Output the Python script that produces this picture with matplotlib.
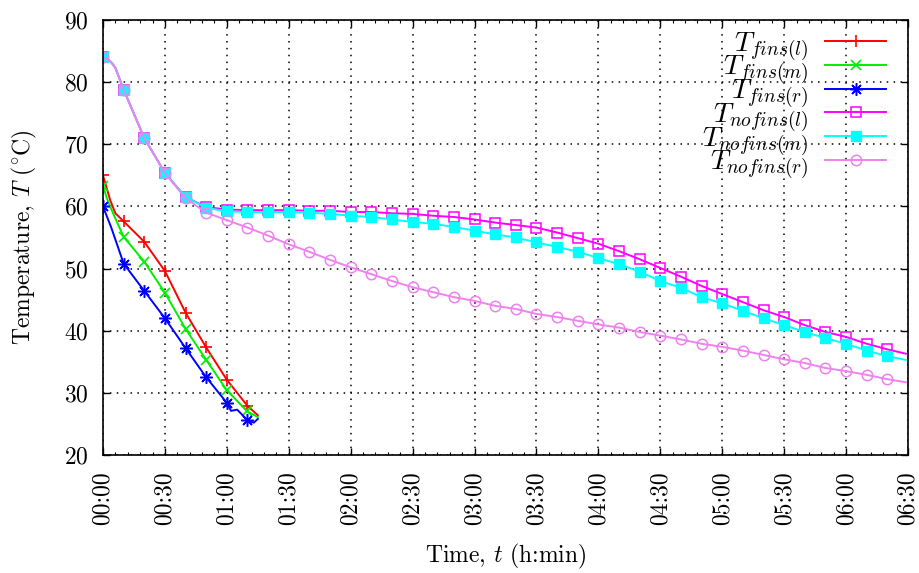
import numpy as np
import matplotlib
matplotlib.use("Agg")
import matplotlib.pyplot as plt
from matplotlib.ticker import MultipleLocator, FuncFormatter

plt.rcParams["font.family"] = ["cmr10", "DejaVu Serif"]
plt.rcParams["mathtext.fontset"] = "cm"
plt.rcParams["axes.formatter.use_mathtext"] = True

# time in minutes, temperature in deg C
t_fins_l = [0, 3.5, 6, 10, 20, 30, 40, 50, 60, 70, 75]
T_fins_l = [65.0, 61.0, 58.9, 57.6, 54.3, 49.6, 42.9, 37.3, 32.1, 27.9, 26.4]

t_fins_m = [0, 2, 5, 10, 20, 30, 40, 50, 60, 70, 75]
T_fins_m = [63.3, 61.2, 58.8, 55.1, 51.1, 46.1, 40.3, 35.3, 30.4, 27.0, 26.1]

t_fins_r = [0, 4, 10, 20, 30, 40, 50, 60, 62, 65, 70, 73, 75]
T_fins_r = [60.0, 56.6, 50.8, 46.4, 42.0, 37.2, 32.5, 28.4, 27.1, 27.3, 25.6, 25.2, 25.8]

t_nofins = [0, 2, 4, 6, 10, 15, 20, 30, 40, 50, 60, 70, 80, 90, 100, 110, 120,
            130, 140, 150, 160, 170, 180, 190, 200, 210, 220, 230, 240, 250,
            260, 270, 280, 290, 300, 310, 320, 330, 340, 350, 360, 370, 380, 389]
T_nofins_l = [84.0, 83.8, 83.2, 82.3, 78.8, 74.9, 71.0, 65.4, 61.5, 59.9, 59.5,
              59.4, 59.4, 59.4, 59.3, 59.3, 59.1, 59.1, 58.9, 58.8, 58.5, 58.3,
              57.9, 57.4, 57.0, 56.6, 55.8, 54.9, 54.0, 52.8, 51.5, 50.1, 48.7,
              47.2, 45.9, 44.6, 43.3, 42.2, 40.9, 39.8, 39.0, 37.9, 37.0, 36.3]
T_nofins_m = [84.0, 83.8, 83.2, 82.3, 78.8, 74.9, 71.0, 65.4, 61.5, 59.8, 59.2,
              59.1, 59.1, 59.1, 59.0, 58.8, 58.5, 58.3, 57.9, 57.5, 57.2, 56.7,
              56.1, 55.5, 55.0, 54.2, 53.5, 52.7, 51.7, 50.7, 49.5, 48.0, 46.9,
              45.4, 44.4, 43.2, 42.0, 40.9, 39.8, 38.8, 37.9, 36.8, 35.9, 35.3]
T_nofins_r = [84.0, 83.8, 83.2, 82.3, 78.8, 74.9, 71.0, 65.4, 61.3, 59.0, 57.8,
              56.6, 55.3, 53.9, 52.7, 51.4, 50.2, 49.1, 48.0, 47.0, 46.2, 45.4,
              44.8, 44.0, 43.5, 42.7, 42.2, 41.6, 41.0, 40.5, 39.8, 39.2, 38.6,
              37.9, 37.4, 36.8, 36.1, 35.4, 34.8, 34.0, 33.5, 32.9, 32.2, 31.7]


def every10(t):
    # markers only on the 10 minute samples
    return [i for i, v in enumerate(t) if v % 10 == 0]


def hhmm(x, pos):
    x = int(round(x))
    return f"{x // 60:02d}:{x % 60:02d}"


fig = plt.figure(figsize=(9.19, 5.73), dpi=100)
ax = fig.add_axes([103 / 919, 1 - 455 / 573, 805 / 919, 435 / 573])

lw = 1.4
ax.plot(t_fins_l, T_fins_l, color="#ff0000", lw=lw, marker="+", ms=9, mew=1.2,
        markevery=every10(t_fins_l), label=r"$T_{fins(l)}$")
ax.plot(t_fins_m, T_fins_m, color="#00ee00", lw=lw, marker="x", ms=7.5, mew=1.2,
        markevery=every10(t_fins_m), label=r"$T_{fins(m)}$")
ax.plot(t_fins_r, T_fins_r, color="#0000ff", lw=lw, marker=(8, 2, 0), ms=9, mew=1.1,
        markevery=every10(t_fins_r), label=r"$T_{fins(r)}$")
ax.plot(t_nofins, T_nofins_l, color="#ff00ff", lw=lw, marker="s", ms=7, mew=1.1,
        mfc="none", markevery=every10(t_nofins), label=r"$T_{nofins(l)}$")
ax.plot(t_nofins, T_nofins_m, color="#00ffff", lw=lw, marker="s", ms=7,
        markevery=every10(t_nofins), label=r"$T_{nofins(m)}$")
ax.plot(t_nofins, T_nofins_r, color="#ee82ee", lw=lw, marker="o", ms=7.5, mew=1.1,
        mfc="none", markevery=every10(t_nofins), label=r"$T_{nofins(r)}$")

ax.set_xlim(0, 390)
ax.set_ylim(20, 90)
ax.xaxis.set_major_locator(MultipleLocator(30))
ax.xaxis.set_minor_locator(MultipleLocator(6))
ax.xaxis.set_major_formatter(FuncFormatter(hhmm))
ax.yaxis.set_major_locator(MultipleLocator(10))

ax.tick_params(which="both", direction="in", top=True, right=True, labelsize=17)
ax.tick_params(which="major", length=5, width=1)
ax.tick_params(which="minor", length=2.5, width=0.8)
ax.tick_params(axis="y", pad=10)
ax.tick_params(axis="x", pad=12)
plt.setp(ax.get_xticklabels(), rotation=90)

for s in ax.spines.values():
    s.set_linewidth(1.2)

ax.set_axisbelow(True)
ax.grid(True, which="major", color="black", linestyle=(0, (1, 3.5)), linewidth=1.1)

ax.set_xlabel(r"Time, $t$ (h:min)", fontsize=17, labelpad=12)
ax.set_ylabel(r"Temperature, $T$ ($^{\circ}$C)", fontsize=17, labelpad=18)

ax.legend(loc="upper right", bbox_to_anchor=(0.973, 0.978), frameon=False,
          markerfirst=False, fontsize=20, handlelength=2.2, handletextpad=0.6,
          labelspacing=-0.33, borderpad=0, borderaxespad=0)

fig.savefig("out.png", dpi=100)
